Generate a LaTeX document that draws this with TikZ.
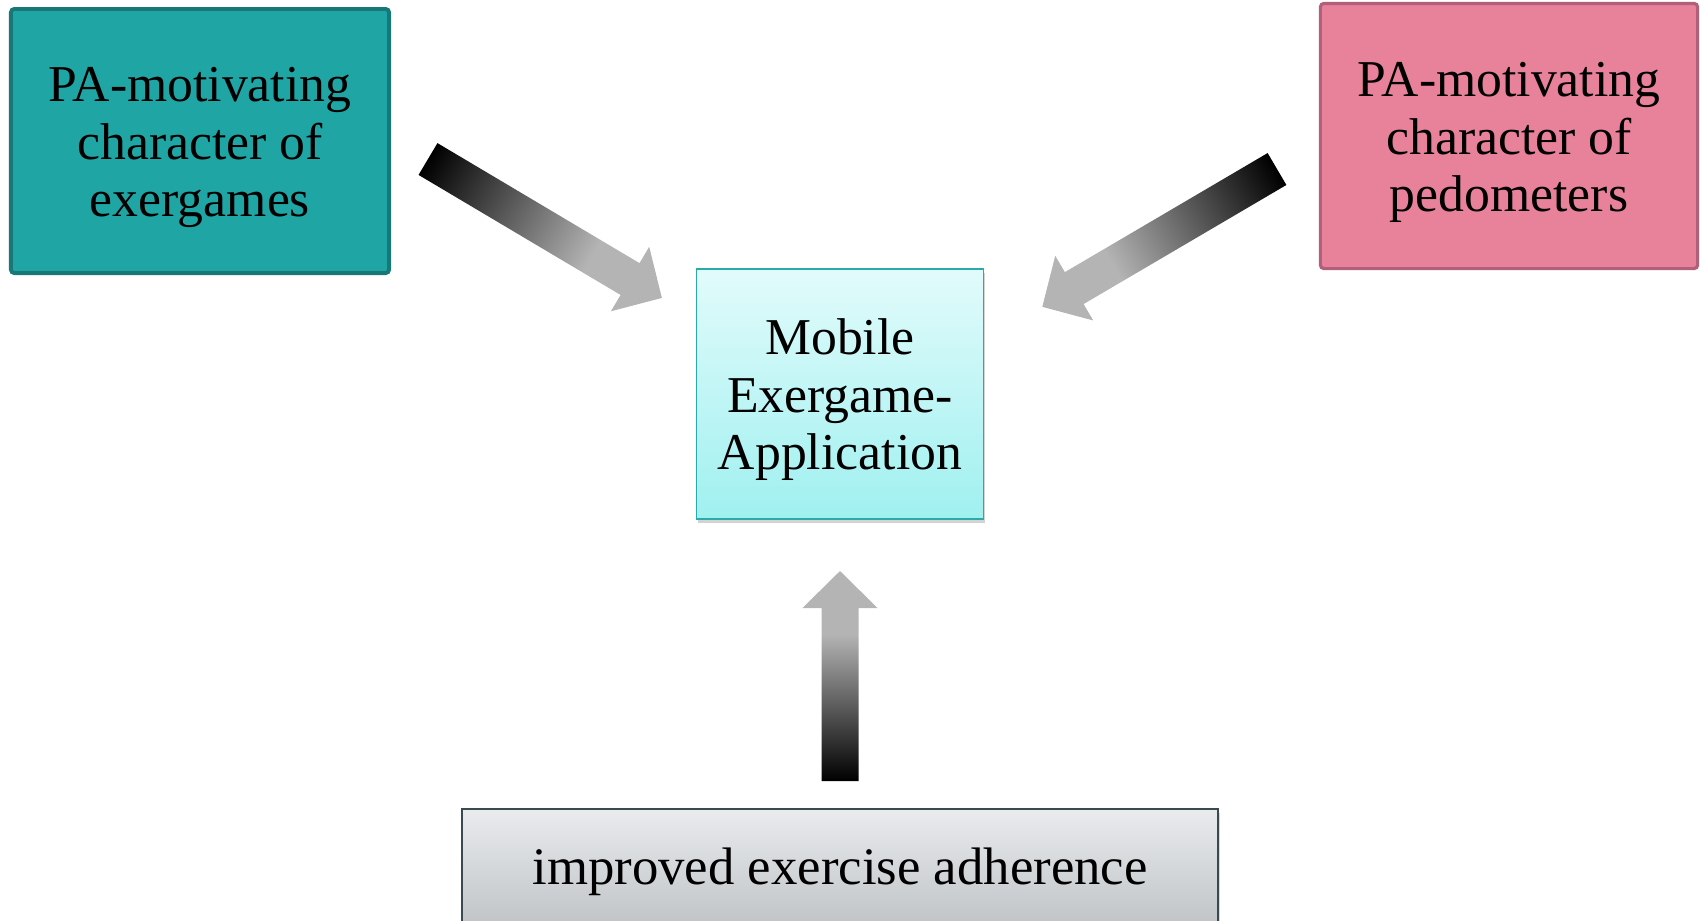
\documentclass[tikz,border=0pt]{standalone}
\usepackage{xcolor}
\usepackage{fontspec}
\setmainfont{Liberation Serif}
\usetikzlibrary{positioning}
\usetikzlibrary{calc}
\usetikzlibrary{shadows}

\definecolor{gameteal}{HTML}{20A5A5}
\definecolor{gametealdark}{HTML}{187878}
\definecolor{pedopink}{HTML}{E8829A}
\definecolor{pedopinkdark}{HTML}{B0607A}
\definecolor{apptop}{HTML}{E2FBFB}
\definecolor{appbottom}{HTML}{A0F0F0}
\definecolor{appborder}{HTML}{2AAAA8}
\definecolor{adhtop}{HTML}{E9EBED}
\definecolor{adhbottom}{HTML}{BDC1C4}
\definecolor{adhborder}{HTML}{3A4A50}
\definecolor{arrowgray}{HTML}{B4B4B4}

\pgfdeclarehorizontalshading{arrowfade}{100bp}{color(0bp)=(black); color(25bp)=(black); color(60bp)=(arrowgray); color(100bp)=(arrowgray)}

% taller first line, moves the text a little down in its box
\newcommand{\toplinestrut}{\rule{0pt}{13.5pt}}

% block arrow from #1 to #2, black at the tail, gray at the head
\newcommand{\fadearrow}[2]{%
  \path let \p1=($(#2)-(#1)$) in
    \pgfextra{\pgfmathsetmacro\arang{atan2(\y1,\x1)}\pgfmathsetmacro\arlen{veclen(\x1,\y1)}%
      \xdef\gArang{\arang}\xdef\gArlen{\arlen}};
  \begin{scope}[transform canvas={shift={(#1)},rotate=\gArang}]
    \shade[shading=arrowfade]
      (0cm,-0.185cm) -- ({\gArlen pt-0.37cm},-0.185cm) -- ({\gArlen pt-0.37cm},-0.375cm)
      -- ({\gArlen pt},0cm) -- ({\gArlen pt-0.37cm},0.375cm) -- ({\gArlen pt-0.37cm},0.185cm)
      -- (0cm,0.185cm) -- cycle;
  \end{scope}}

\begin{document}
\begin{tikzpicture}[x=0.01cm,y=-0.01cm]
			\tikzstyle{box}=[draw,rectangle,align=center,inner sep=0pt,font=\fontsize{14.7}{16.4}\selectfont]

			\useasboundingbox (0,0) rectangle (1700,920);

			\node (game) [box,fill=gameteal,draw=gametealdark,line width=1.1pt,rounded corners=1pt,
			  minimum width=3.78cm,minimum height=2.64cm] at (200,141)
			  {\toplinestrut PA-motivating\\character of\\exergames};
			\node (pedo) [box,fill=pedopink,draw=pedopinkdark,line width=0.9pt,rounded corners=1pt,
			  minimum width=3.77cm,minimum height=2.65cm] at (1509,136)
			  {\toplinestrut PA-motivating\\character of\\pedometers};
			\node (app) [box,top color=apptop,bottom color=appbottom,draw=appborder,line width=0.5pt,
			  drop shadow={shadow xshift=0.4pt,shadow yshift=-1.2pt,opacity=0.35},
			  minimum width=2.87cm,minimum height=2.5cm] at (840,394)
			  {\toplinestrut Mobile\\Exergame-\\Application};
			\node (adh) [box,top color=adhtop,bottom color=adhbottom,draw=adhborder,line width=0.5pt,
			  drop shadow={shadow xshift=0.4pt,shadow yshift=-1.2pt,opacity=0.3},
			  font=\fontsize{15}{17}\selectfont,
			  minimum width=7.56cm,minimum height=1.26cm] at (840,872)
			  {improved exercise adherence};

			\coordinate (gameTail) at (428,159);
			\coordinate (gameTip) at (662,298);
			\coordinate (pedoTail) at (1277,169);
			\coordinate (pedoTip) at (1042,307);
			\coordinate (adhTail) at (840,781);
			\coordinate (adhTip) at (840,571);

			\fadearrow{gameTail}{gameTip}
			\fadearrow{pedoTail}{pedoTip}
			\fadearrow{adhTail}{adhTip}

		\end{tikzpicture}
\end{document}
